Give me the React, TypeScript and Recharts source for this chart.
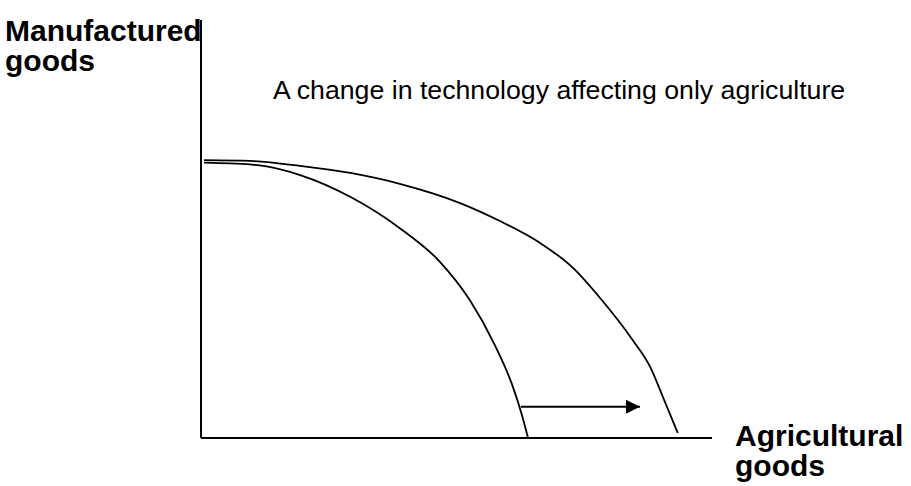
import { LineChart, Line, XAxis, YAxis } from "recharts"

// x: agricultural goods, y: manufactured goods (0-100 on both axes)
const outerX = [0.6, 9.6, 19.4, 29.2, 38.9, 50.7, 58.5, 66.3, 72.8, 78.1, 84.5, 87.9, 90.4, 93.3]
const outerY = [66.5, 66.3, 65.1, 63.4, 60.8, 56.2, 51.9, 46.7, 40.7, 33.5, 23.4, 17.0, 9.8, 1.2]

const innerX = [0.6, 5.7, 11.5, 19.4, 29.2, 38.9, 46.8, 52.6, 57.5, 60.9, 62.8, 64.0]
const innerY = [65.9, 65.7, 65.2, 62.9, 57.7, 50.2, 42.1, 33.0, 22.2, 12.7, 5.5, 0]

const arrowX = [62.6, 85.9]
const arrowY = [7.5, 7.5]

const zip = (xs: number[], ys: number[]) => xs.map((x, i) => ({ x, y: ys[i] }))

const outer = zip(outerX, outerY)
const inner = zip(innerX, innerY)
const arrow = zip(arrowX, arrowY)

const FONT = '"Liberation Sans", Arial, sans-serif'

function ArrowHead(props: any) {
  const { cx, cy, index } = props
  if (index !== arrow.length - 1) return <g key={index} />
  return (
    <polygon
      key={index}
      points={`${cx},${cy} ${cx - 14},${cy - 7} ${cx - 14},${cy + 7}`}
      fill="#000"
    />
  )
}

export default function App() {
  return (
    <div
      style={{
        position: "absolute",
        left: 0,
        top: 0,
        width: 911,
        height: 486,
        background: "#fff",
        fontFamily: FONT,
        color: "#000",
      }}
    >
      <LineChart width={911} height={486} margin={{ top: 20, right: 199, bottom: 18, left: 141 }}>
        <XAxis
          type="number"
          dataKey="x"
          domain={[0, 100]}
          tick={false}
          tickLine={false}
          height={30}
          axisLine={{ stroke: "#000", strokeWidth: 2 }}
        />
        <YAxis
          type="number"
          domain={[0, 100]}
          tick={false}
          tickLine={false}
          width={60}
          axisLine={{ stroke: "#000", strokeWidth: 2 }}
        />
        <Line data={outer} dataKey="y" type="monotone" stroke="#000" strokeWidth={1.8} dot={false} isAnimationActive={false} />
        <Line data={inner} dataKey="y" type="monotone" stroke="#000" strokeWidth={1.8} dot={false} isAnimationActive={false} />
        <Line data={arrow} dataKey="y" type="linear" stroke="#000" strokeWidth={2} dot={ArrowHead} isAnimationActive={false} />
      </LineChart>

      <div style={{ position: "absolute", left: 5, top: 16, fontSize: 30, lineHeight: "30px", fontWeight: "bold" }}>
        Manufactured
        <br />
        goods
      </div>
      <div style={{ position: "absolute", left: 273, top: 77, fontSize: 26.7, lineHeight: "26.7px", whiteSpace: "nowrap" }}>
        A change in technology affecting only agriculture
      </div>
      <div style={{ position: "absolute", left: 735, top: 421, fontSize: 30, lineHeight: "30px", fontWeight: "bold" }}>
        Agricultural
        <br />
        goods
      </div>
    </div>
  )
}
